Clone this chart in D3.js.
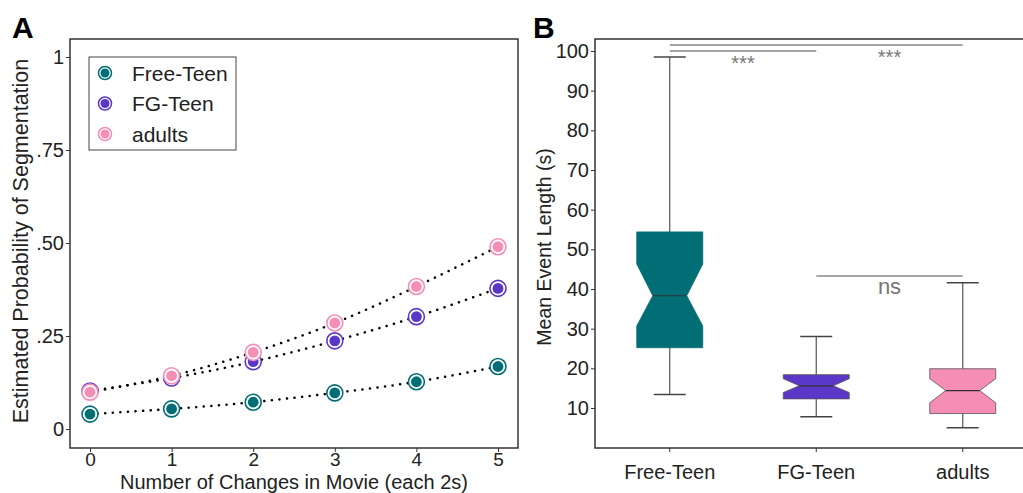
<!DOCTYPE html>
<html>
<head>
<title>Segmentation and event length</title>
<script src="https://d3js.org/d3.v7.min.js"></script>
</head>
<body style="margin:0;background:#fff">
<style>
  text { font-family: "Liberation Sans", Arial, sans-serif; fill: #222; }
</style>
<script>
// ---- data ----
var groups = ["Free-Teen", "FG-Teen", "adults"];
var colors = ["#006e74", "#5b37c8", "#f58db5"];
var changes = [0, 1, 2, 3, 4, 5];
var probFreeTeen = [0.040, 0.054, 0.072, 0.097, 0.127, 0.168];
var probFGTeen   = [0.102, 0.137, 0.181, 0.237, 0.302, 0.378];
var probAdults   = [0.099, 0.143, 0.206, 0.285, 0.383, 0.490];
var probTicks = [0, 0.25, 0.5, 0.75, 1];
var probTickLabels = ["0", ".25", ".50", ".75", "1"];

// box stats: whiskerLow, q1, notchLow, median, notchHigh, q3, whiskerHigh
var boxStats = [
  [13.4, 25.2, 30.7, 38.3, 46.3, 54.4, 98.5],
  [7.8, 12.3, 13.9, 15.6, 17.4, 18.4, 28.0],
  [5.0, 8.6, 11.3, 14.4, 17.4, 19.9, 41.6]
];
var lengthTicks = [10, 20, 30, 40, 50, 60, 70, 80, 90, 100];
// comparisons: from, to, height, label, label sits between these two groups
var comparisons = [
  ["Free-Teen", "FG-Teen", 100, "***", "Free-Teen", "FG-Teen"],
  ["Free-Teen", "adults", 101.5, "***", "FG-Teen", "adults"],
  ["FG-Teen", "adults", 43.3, "ns", "FG-Teen", "adults"]
];

var svg = d3.select("body").append("svg").attr("width", 1023).attr("height", 493);

// ================= Panel A =================
var A = {left: 70, top: 39, right: 518, bottom: 448};
var xA = d3.scaleLinear().domain([0, 5]).range([90, 498]);
var yA = d3.scaleLinear().domain([0, 1]).range([429, 57]);

svg.append("text").attr("x", 12).attr("y", 38).style("font-size", "30px")
  .style("font-weight", "bold").style("fill", "#000").text("A");

svg.append("rect").attr("x", A.left).attr("y", A.top)
  .attr("width", A.right - A.left).attr("height", A.bottom - A.top)
  .attr("fill", "none").attr("stroke", "#333").attr("stroke-width", 1.5);

var axA_y = svg.append("g").attr("transform", "translate(" + A.left + ",0)")
  .call(d3.axisLeft(yA).tickValues(probTicks).tickSize(4).tickPadding(2)
    .tickFormat(function (d, i) { return probTickLabels[i]; }));
var axA_x = svg.append("g").attr("transform", "translate(0," + A.bottom + ")")
  .call(d3.axisBottom(xA).tickValues(changes).tickSize(4).tickPadding(1).tickFormat(d3.format("d")));
[axA_y, axA_x].forEach(function (g) {
  g.select(".domain").remove();
  g.selectAll("line").attr("stroke", "#333");
  g.selectAll("text").style("font-size", "20px").style("fill", "#222")
    .style("font-family", "'Liberation Sans', Arial, sans-serif");
});
axA_x.selectAll("text").style("font-size", "19px");

svg.append("text").attr("transform", "translate(28,241) rotate(-90)")
  .attr("text-anchor", "middle").style("font-size", "21.5px")
  .text("Estimated Probability of Segmentation");
svg.append("text").attr("x", 294).attr("y", 488.5)
  .attr("text-anchor", "middle").style("font-size", "20px")
  .text("Number of Changes in Movie (each 2s)");

var seriesA = [probFreeTeen, probFGTeen, probAdults];
var line = d3.line().x(function (d, i) { return xA(changes[i]); })
  .y(function (d) { return yA(d); }).curve(d3.curveNatural);

seriesA.forEach(function (vals, s) {
  svg.append("path").datum(vals).attr("d", line).attr("fill", "none")
    .attr("stroke", "#000").attr("stroke-width", 2.5)
    .attr("stroke-dasharray", "0.1 7.5").attr("stroke-linecap", "round");
});
seriesA.forEach(function (vals, s) {
  var g = svg.append("g");
  g.selectAll("circle.ring").data(vals).enter().append("circle")
    .attr("cx", function (d, i) { return xA(changes[i]); })
    .attr("cy", function (d) { return yA(d); })
    .attr("r", 8).attr("fill", "#fff").attr("stroke", colors[s]).attr("stroke-width", 1.6);
  g.selectAll("circle.dot").data(vals).enter().append("circle")
    .attr("cx", function (d, i) { return xA(changes[i]); })
    .attr("cy", function (d) { return yA(d); })
    .attr("r", 5.4).attr("fill", colors[s]);
});

// legend
var leg = svg.append("g");
leg.append("rect").attr("x", 89).attr("y", 57).attr("width", 147).attr("height", 93)
  .attr("fill", "#fff").attr("stroke", "#444").attr("stroke-width", 1);
groups.forEach(function (name, i) {
  var cy = 73 + i * 30.5;
  leg.append("circle").attr("cx", 105).attr("cy", cy).attr("r", 6.5)
    .attr("fill", "#fff").attr("stroke", colors[i]).attr("stroke-width", 1.5);
  leg.append("circle").attr("cx", 105).attr("cy", cy).attr("r", 4.5).attr("fill", colors[i]);
  leg.append("text").attr("x", 132).attr("y", cy + 7.5).style("font-size", "21px").text(name);
});

// ================= Panel B =================
var B = {left: 595, top: 39, bottom: 448};
var xB = d3.scaleBand().domain(groups).range([595, 1034.5]);
var yB = d3.scaleLinear().domain([10, 100]).range([408, 51]);
function cxB(name) { return xB(name) + xB.bandwidth() / 2 + 1.5; }

svg.append("text").attr("x", 533).attr("y", 38).style("font-size", "30px")
  .style("font-weight", "bold").style("fill", "#000").text("B");

svg.append("path")
  .attr("d", "M1023," + B.top + "H" + B.left + "V" + B.bottom + "H1023")
  .attr("fill", "none").attr("stroke", "#333").attr("stroke-width", 1.5);

var axB_y = svg.append("g").attr("transform", "translate(" + B.left + ",0)")
  .call(d3.axisLeft(yB).tickValues(lengthTicks).tickSize(4).tickPadding(2));
var axB_x = svg.append("g").attr("transform", "translate(1.5," + B.bottom + ")")
  .call(d3.axisBottom(xB).tickSize(4).tickPadding(13));
[axB_y, axB_x].forEach(function (g) {
  g.select(".domain").remove();
  g.selectAll("line").attr("stroke", "#333");
  g.selectAll("text").style("font-size", "20px").style("fill", "#222")
    .style("font-family", "'Liberation Sans', Arial, sans-serif");
});

svg.append("text").attr("transform", "translate(551,247) rotate(-90)")
  .attr("text-anchor", "middle").style("font-size", "19.5px")
  .text("Mean Event Length (s)");

var boxW = 66, notchW = 34, capW = 32;
boxStats.forEach(function (s, i) {
  var cx = cxB(groups[i]);
  var g = svg.append("g");
  g.append("line").attr("x1", cx).attr("x2", cx).attr("y1", yB(s[6])).attr("y2", yB(s[5]))
    .attr("stroke", "#555").attr("stroke-width", 1.2);
  g.append("line").attr("x1", cx).attr("x2", cx).attr("y1", yB(s[1])).attr("y2", yB(s[0]))
    .attr("stroke", "#555").attr("stroke-width", 1.2);
  [s[0], s[6]].forEach(function (v) {
    g.append("line").attr("x1", cx - capW / 2).attr("x2", cx + capW / 2)
      .attr("y1", yB(v)).attr("y2", yB(v)).attr("stroke", "#444").attr("stroke-width", 1.5);
  });
  var l = cx - boxW / 2, r = cx + boxW / 2, nl = cx - notchW / 2, nr = cx + notchW / 2;
  var pts = [[l, yB(s[5])], [r, yB(s[5])], [r, yB(s[4])], [nr, yB(s[3])], [r, yB(s[2])],
    [r, yB(s[1])], [l, yB(s[1])], [l, yB(s[2])], [nl, yB(s[3])], [l, yB(s[4])]];
  g.append("polygon").attr("points", pts.map(function (p) { return p.join(","); }).join(" "))
    .attr("fill", colors[i]).attr("stroke", i === 0 ? colors[0] : "#555").attr("stroke-width", 0.8);
  g.append("line").attr("x1", nl).attr("x2", nr).attr("y1", yB(s[3])).attr("y2", yB(s[3]))
    .attr("stroke", "#333").attr("stroke-width", 1.2);
});

comparisons.forEach(function (c) {
  var x1 = cxB(c[0]), x2 = cxB(c[1]);
  var y = yB(c[2]);
  svg.append("line").attr("x1", x1).attr("x2", x2).attr("y1", y).attr("y2", y)
    .attr("stroke", "#888").attr("stroke-width", 1.5);
  var isNs = c[3] === "ns";
  svg.append("text").attr("x", (cxB(c[4]) + cxB(c[5])) / 2).attr("y", isNs ? y + 18 : y + 19)
    .attr("text-anchor", "middle").style("fill", "#777")
    .style("font-size", isNs ? "22px" : "20px").text(c[3]);
});
</script>
</body>
</html>
